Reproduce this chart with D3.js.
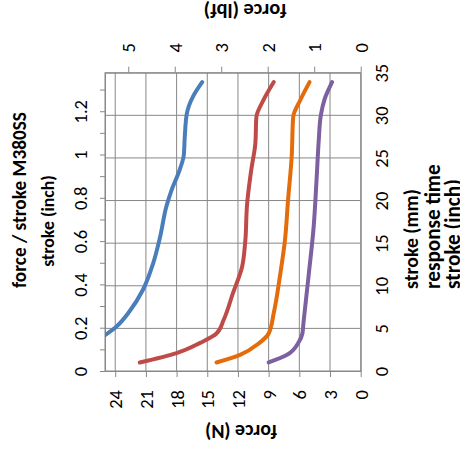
<!DOCTYPE html>
<html>
<head>
<meta charset="utf-8">
<script src="https://cdn.jsdelivr.net/npm/d3@7"></script>
<style>
body { margin: 0; background: #fff; }
text { font-family: Carlito, Lato, sans-serif; fill: #000; }
.title { font-weight: bold; }
.axis path, .axis line { stroke: #888; }
.grid line { stroke: #888; stroke-width: 1; }
</style>
</head>
<body>
<svg id="chart" width="460" height="453"></svg>
<script>
// stroke in mm, force in N (chart is drawn turned on its side)
const strokeBlue = [4.2, 5.2, 7.0, 9.5, 12.6, 15.8, 19.3, 21.2, 23.6, 25.3, 27.5, 30.2, 32.2, 33.9];
const forceBlue  = [25.0, 23.9, 22.6, 21.3, 20.3, 19.6, 19.0, 18.5, 17.7, 17.3, 17.2, 17.0, 16.4, 15.5];
const strokeRed  = [1.0, 2.1, 3.3, 4.4, 6.0, 9.1, 12.2, 15.0, 19.7, 23.6, 26.7, 29.8, 31.8, 33.9];
const forceRed   = [21.6, 18.0, 15.7, 14.1, 13.4, 12.5, 11.6, 11.3, 11.1, 10.7, 10.3, 10.2, 9.5, 8.5];
const strokeOrange = [1.0, 1.9, 3.3, 4.4, 6.8, 11.1, 15.4, 20.1, 25.1, 29.8, 31.8, 33.9];
const forceOrange  = [14.1, 11.8, 9.9, 9.0, 8.5, 7.9, 7.4, 7.1, 6.75, 6.6, 5.9, 5.0];
const strokePurple = [1.0, 1.9, 3.3, 4.4, 5.6, 11.1, 16.9, 22.8, 27.1, 30.0, 32.0, 33.9];
const forcePurple  = [9.0, 7.2, 6.1, 5.7, 5.6, 5.1, 4.6, 4.3, 4.1, 3.9, 3.5, 2.8];
const seriesColors = ["#4A7EBB", "#BE4B48", "#E46C0A", "#7D60A0"];

const forceTicksN = [0, 3, 6, 9, 12, 15, 18, 21, 24];
const forceTicksLbf = [0, 1, 2, 3, 4, 5];
const strokeTicksMm = [0, 5, 10, 15, 20, 25, 30, 35];
const strokeTicksInch = d3.range(0, 14).map(d => d / 10);

const series = [
  {stroke: strokeBlue, force: forceBlue},
  {stroke: strokeRed, force: forceRed},
  {stroke: strokeOrange, force: forceOrange},
  {stroke: strokePurple, force: forcePurple}
];

const L = 105, R = 360.7, T = 72.7, B = 371;
const svg = d3.select("#chart");

const xN = d3.scaleLinear().domain([0, 25]).range([R, L]);
const xLbf = d3.scaleLinear().domain([0, 5.5]).range([R, L]);
const yMm = d3.scaleLinear().domain([0, 35]).range([B, T]);
const yIn = d3.scaleLinear().domain([0, 35 / 25.4]).range([B, T]);

// grid
const grid = svg.append("g").attr("class", "grid");
grid.selectAll(".gv").data(forceTicksN.slice(1)).enter().append("line")
  .attr("x1", d => xN(d)).attr("x2", d => xN(d)).attr("y1", T).attr("y2", B);
grid.selectAll(".gh").data(strokeTicksMm.slice(1, -1)).enter().append("line")
  .attr("y1", d => yMm(d)).attr("y2", d => yMm(d)).attr("x1", L).attr("x2", R);

// axes
const axB = svg.append("g").attr("class", "axis").attr("transform", `translate(0,${B})`)
  .call(d3.axisBottom(xN).tickValues(forceTicksN).tickSize(6).tickSizeOuter(0));
axB.selectAll("text").attr("y", 0).attr("x", 0).attr("dy", "0.35em")
  .attr("text-anchor", "end").attr("transform", "translate(0,19) rotate(-90)");

const axT = svg.append("g").attr("class", "axis").attr("transform", `translate(0,${T})`)
  .call(d3.axisTop(xLbf).tickValues(forceTicksLbf).tickSize(6).tickSizeOuter(0).tickFormat(d3.format("d")));
axT.selectAll("text").attr("y", 0).attr("x", 0).attr("dy", "0.35em")
  .attr("text-anchor", "middle").attr("transform", "translate(0,-25) rotate(-90)");

const axL = svg.append("g").attr("class", "axis").attr("transform", `translate(${L},0)`)
  .call(d3.axisLeft(yIn).tickValues(strokeTicksInch).tickSize(5).tickSizeOuter(0)
    .tickFormat(d => (Math.round(d * 10) % 2 === 0 ? d3.format("~g")(d) : "")));
axL.selectAll("text").attr("x", 0).attr("y", 0).attr("dy", "0.35em")
  .attr("text-anchor", "middle").attr("transform", "translate(-24,0) rotate(-90)");

const axR = svg.append("g").attr("class", "axis").attr("transform", `translate(${R},0)`)
  .call(d3.axisRight(yMm).tickValues(strokeTicksMm).tickSize(0).tickSizeOuter(0));
axR.selectAll("text").attr("x", 0).attr("y", 0).attr("dy", "0.35em")
  .attr("text-anchor", "middle").attr("transform", "translate(21,0) rotate(-90)");

svg.selectAll(".axis text").style("font-size", "18.5px").style("font-family", "Carlito, Lato, sans-serif");

// plot border
svg.append("rect").attr("x", L).attr("y", T).attr("width", R - L).attr("height", B - T)
  .attr("fill", "none").attr("stroke", "#888");

// lines
svg.append("clipPath").attr("id", "clip").append("rect")
  .attr("x", L).attr("y", T).attr("width", R - L).attr("height", B - T);
const line = d3.line().curve(d3.curveMonotoneY)
  .x(d => xN(d[1])).y(d => yMm(d[0]));
svg.append("g").attr("clip-path", "url(#clip)")
  .selectAll("path").data(series).enter().append("path")
  .attr("d", s => line(d3.zip(s.stroke, s.force)))
  .attr("fill", "none")
  .attr("stroke", (s, i) => seriesColors[i])
  .attr("stroke-width", 4)
  .attr("stroke-linecap", "round")
  .attr("stroke-linejoin", "round");

// titles, sized to the length they take in the picture
function label(txt, x, y, rot, len, anchor) {
  const t = svg.append("text").attr("class", "title")
    .attr("transform", `translate(${x},${y}) rotate(${rot})`)
    .attr("text-anchor", anchor || "middle").attr("dy", "0.35em")
    .style("font-size", "20px").text(txt);
  const w = t.node().getComputedTextLength();
  t.style("font-size", (20 * len / w).toFixed(1) + "px");
}
label("force / stroke M380SS", 19, 200, -90, 176);
label("stroke (inch)", 48, 221, -90, 92);
label("force (N)", 241, 432, 180, 72);
label("force (lbf)", 245, 11, 180, 83);
label("stroke (mm)", 411, 289, -90, 100, "start");
label("response time", 433, 289, -90, 125, "start");
label("stroke (inch)", 453, 289, -90, 110, "start");
</script>
</body>
</html>
